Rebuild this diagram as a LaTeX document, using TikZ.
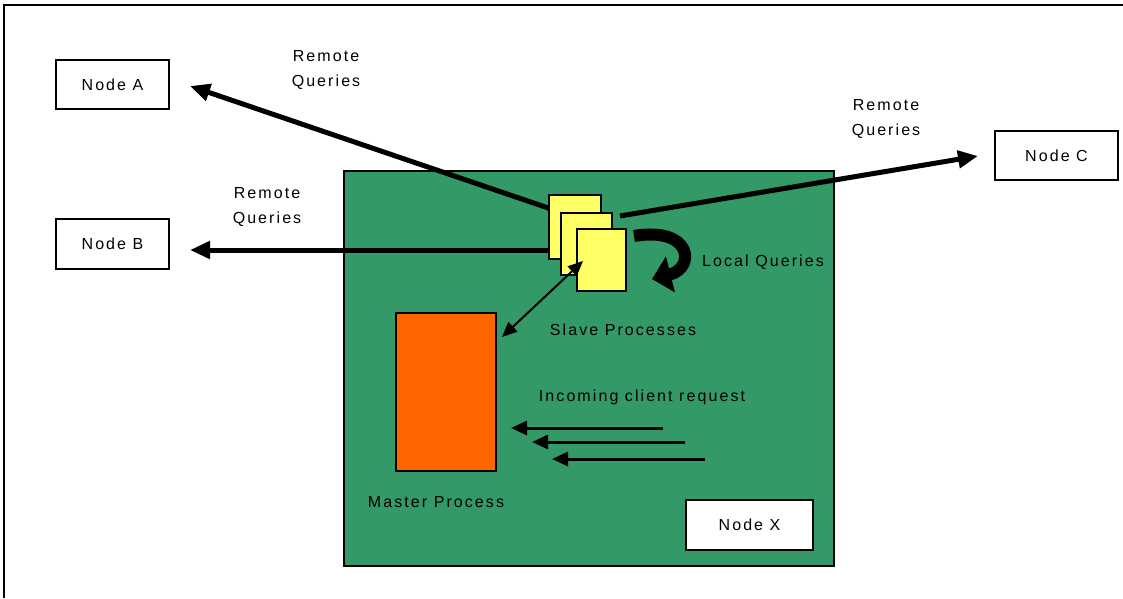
\documentclass[tikz,border=0pt]{standalone}
\usepackage{fontspec}
\setmainfont{Liberation Sans}[LetterSpace=13]
\usetikzlibrary{arrows.meta,calc}
\definecolor{hostgreen}{RGB}{51,153,102}
\definecolor{masterorange}{RGB}{255,102,0}
\definecolor{slaveyellow}{RGB}{255,255,102}
\tikzset{
  x=1pt, y=-1pt,
  lbl/.style={font=\fontsize{16}{25}\selectfont, align=center, inner sep=0pt},
  nodebox/.style={draw=black, line width=1.6pt, fill=white, minimum height=49pt, inner sep=0pt, lbl},
  slavebox/.style={draw=black, line width=1.4pt, fill=slaveyellow, inner sep=0pt},
  remote/.style={line width=5pt, -{Triangle[length=20pt,width=17pt]}},
  incoming/.style={line width=3pt, -{Triangle[length=16pt,width=14pt]}},
  link/.style={line width=2pt, {Triangle[length=15pt,width=13pt]}-{Triangle[length=15pt,width=13pt]}},
}
\begin{document}
\begin{tikzpicture}
\useasboundingbox (0,0) rectangle (1123,598);
% page frame
\draw[line width=2pt] (4,598) -- (4,5) -- (1123,5);

% host node with its processes
\node[draw=black, line width=1.6pt, fill=hostgreen, minimum width=490pt, minimum height=395pt, inner sep=0pt] (host) at (589,368.5) {};
\node[draw=black, line width=1.4pt, fill=masterorange, minimum width=100pt, minimum height=158pt, inner sep=0pt] (master) at (446,392) {};
\node[nodebox, minimum width=127pt, minimum height=50pt] (nx) at (749.5,525) {Node X};

% remote nodes
\node[nodebox, minimum width=113pt] (na) at (112.5,84.5) {Node A};
\node[nodebox, minimum width=113pt, minimum height=50pt] (nb) at (112.5,244) {Node B};
\node[nodebox, minimum width=123pt] (nc) at (1056.5,155.5) {Node C};

% query arrows leave from behind the slave stack
\coordinate (qa) at (560,212);
\coordinate (qb) at (560,250);
\coordinate (qc) at (620,216);
\coordinate (ta) at (190,86);
\coordinate (tb) at (190,250);
\coordinate (tc) at (978,156);

\draw[remote] (qa) -- (ta);
\draw[remote] (qb) -- (tb);
\draw[remote] (qc) -- (tc);

% slave processes
\node[slavebox, minimum width=52pt, minimum height=64pt] (s1) at (575,227) {};
\node[slavebox, minimum width=51pt, minimum height=62pt] (s2) at (586.5,244) {};
\node[slavebox, minimum width=49pt, minimum height=62pt] (s3) at (601.5,260) {};

% local queries loop
\coordinate (l0) at (634,236);
\coordinate (l1) at (652,279);
\draw[line width=12pt, -{Triangle[length=19pt,width=36pt]}]
  (l0) .. controls (692,226) and (696,268) .. (l1);

% master <-> slave link
\coordinate (m0) at (502,337);
\coordinate (m1) at (583,261);
\draw[link] (m0) -- (m1);

% incoming client requests
\coordinate (i1) at (663,428);
\coordinate (i2) at (685,442);
\coordinate (i3) at (705,459);
\coordinate (j1) at (511,428);
\coordinate (j2) at (532,442);
\coordinate (j3) at (552,459);
\draw[incoming] (i1) -- (j1);
\draw[incoming] (i2) -- (j2);
\draw[incoming] (i3) -- (j3);

% labels
\node[lbl] (ra) at (326,70) {Remote\\Queries};
\node[lbl] (rb) at (267,207) {Remote\\Queries};
\node[lbl] (rc) at (886,119) {Remote\\Queries};
\node[lbl] (lq) at (763,262) {Local Queries};
\node[lbl] (sp) at (623,330) {Slave Processes};
\node[lbl] (ic) at (642,397) {Incoming client request};
\node[lbl] (mp) at (436,502) {Master Process};
\end{tikzpicture}
\end{document}
